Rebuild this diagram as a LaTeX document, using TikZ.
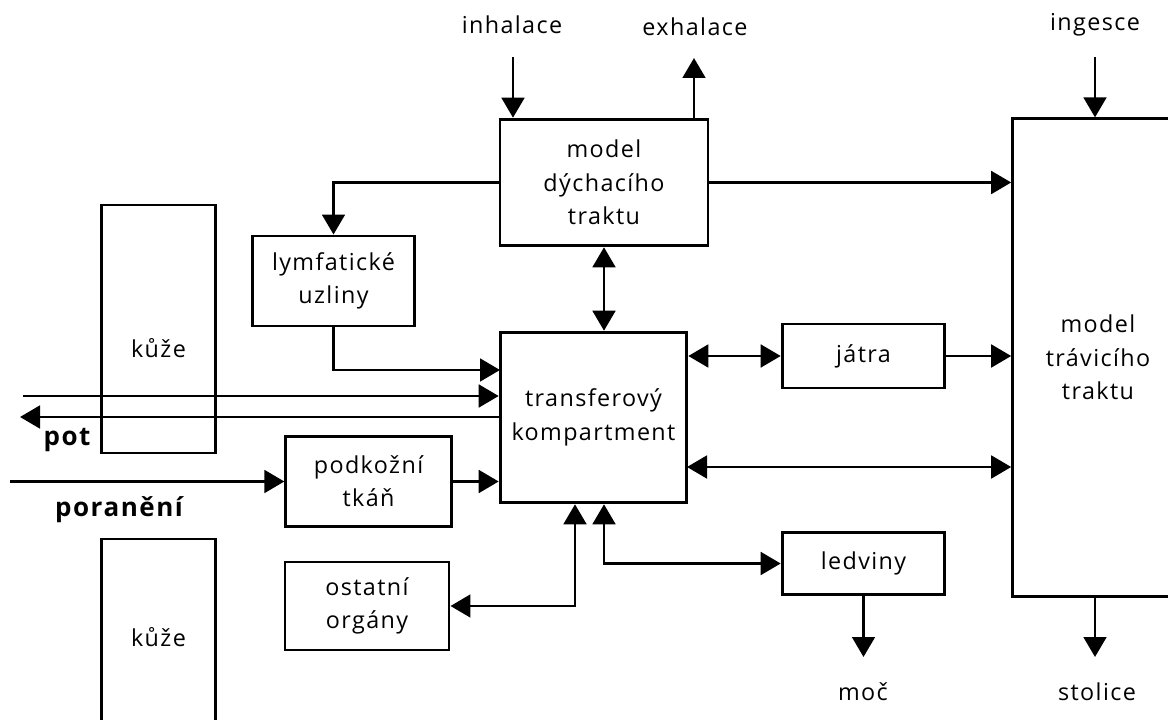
\documentclass[tikz,border=0pt]{standalone}
\usepackage{fontspec}
\setmainfont{Open Sans}[LetterSpace=6]
\usetikzlibrary{arrows.meta}

\tikzset{
  box/.style={draw, line width=2.2pt, align=center, inner sep=0pt,
    font=\fontsize{17.5}{25}\selectfont},
  lbl/.style={font=\fontsize{17.5}{25}\selectfont},
  bold/.style={font=\fontsize{19.5}{22}\selectfont\bfseries},
  arr/.style={line width=2.2pt, -{Triangle[length=15pt,width=17pt]}},
  arrboth/.style={line width=2.2pt, {Triangle[length=15pt,width=17pt]}-{Triangle[length=15pt,width=17pt]}}
}

\begin{document}
\begin{tikzpicture}[x=0.75pt, y=-0.75pt]
  \useasboundingbox (0,0) rectangle (1168,720);

  % boxes
  \node[box, minimum width=156pt, minimum height=95pt] (resp) at (604,182.5) {model\\dýchacího\\traktu};
  \node[box, minimum width=128pt, minimum height=358pt] (gi) at (1098,357.5) {model\\trávicího\\traktu};
  \node[box, minimum width=122pt, minimum height=67.5pt] (lymph) at (333.5,281) {lymfatické\\uzliny};
  \node[box, minimum width=140pt, minimum height=128pt] (trans) at (593.5,417.5) {transferový\\kompartment};
  \node[box, minimum width=85pt, minimum height=186pt,
    label={[lbl, yshift=-14pt]center:kůže}] (skin) at (158.5,329) {};
  \node[box, minimum width=85pt, minimum height=147pt] (skinb) at (158.5,637) {kůže};
  \node[box, minimum width=124pt, minimum height=68pt] (subc) at (368.5,481.5) {podkožní\\tkáň};
  \node[box, minimum width=123pt, minimum height=66pt] (other) at (367,606) {ostatní\\orgány};
  \node[box, minimum width=122pt, minimum height=48pt] (liver) at (863.5,356) {játra};
  \node[box, minimum width=122pt, minimum height=47pt] (kidney) at (863.5,563.5) {ledviny};

  % labels
  \node[lbl] (inh) at (512,25) {inhalace};
  \node[lbl] (exh) at (695,27) {exhalace};
  \node[lbl] (ing) at (1095,25) {ingesce};
  \node[lbl] (urine) at (863,692) {moč};
  \node[lbl] (feces) at (1097,692) {stolice};
  \node[bold] (pot) at (67,440) {pot};
  \node[bold] (wound) at (119,510) {poranění};

  % free ends
  \coordinate (inhin) at (513,57);
  \coordinate (exhout) at (694,58);
  \coordinate (ingin) at (1095,57);
  \coordinate (skinin) at (23,396);
  \coordinate (potout) at (20,417);
  \coordinate (lymphin) at (500,370);
  \coordinate (woundin) at (10,481.5);
  \coordinate (tgi) at (687,467);
  \coordinate (tkid) at (604,565);
  \coordinate (toth) at (575,606);
  \coordinate (urineout) at (863,657);
  \coordinate (fecesout) at (1095,657);

  % connectors
  \draw[arr] (inhin) -- (inhin |- resp.north);
  \draw[arr] (exhout |- resp.north) -- (exhout);
  \draw[arr] (ingin) -- (ingin |- gi.north);
  \draw[arr] (resp.east) -- (resp.east -| gi.west);
  \draw[arr] (resp.west) -| (lymph.north);
  \draw[arr] (lymph.south) |- (lymphin);
  \draw[arrboth] (resp.south) -- (resp.south |- trans.north);
  \draw[arr] (skinin) -- (skinin -| trans.west);
  \draw[arr] (potout -| trans.west) -- (potout);
  \draw[arr] (woundin) -- (subc.west);
  \draw[arr] (subc.east) -- (subc.east -| trans.west);
  \draw[arrboth] (liver.west -| trans.east) -- (liver.west);
  \draw[arr] (liver.east) -- (liver.east -| gi.west);
  \draw[arrboth] (tgi) -- (tgi -| gi.west);
  \draw[arrboth] (tkid |- trans.south) |- (kidney.west);
  \draw[arrboth] (toth |- trans.south) |- (other.east);
  \draw[arr] (kidney.south) -- (kidney.south |- urineout);
  \draw[arr] (fecesout |- gi.south) -- (fecesout);
\end{tikzpicture}
\end{document}
